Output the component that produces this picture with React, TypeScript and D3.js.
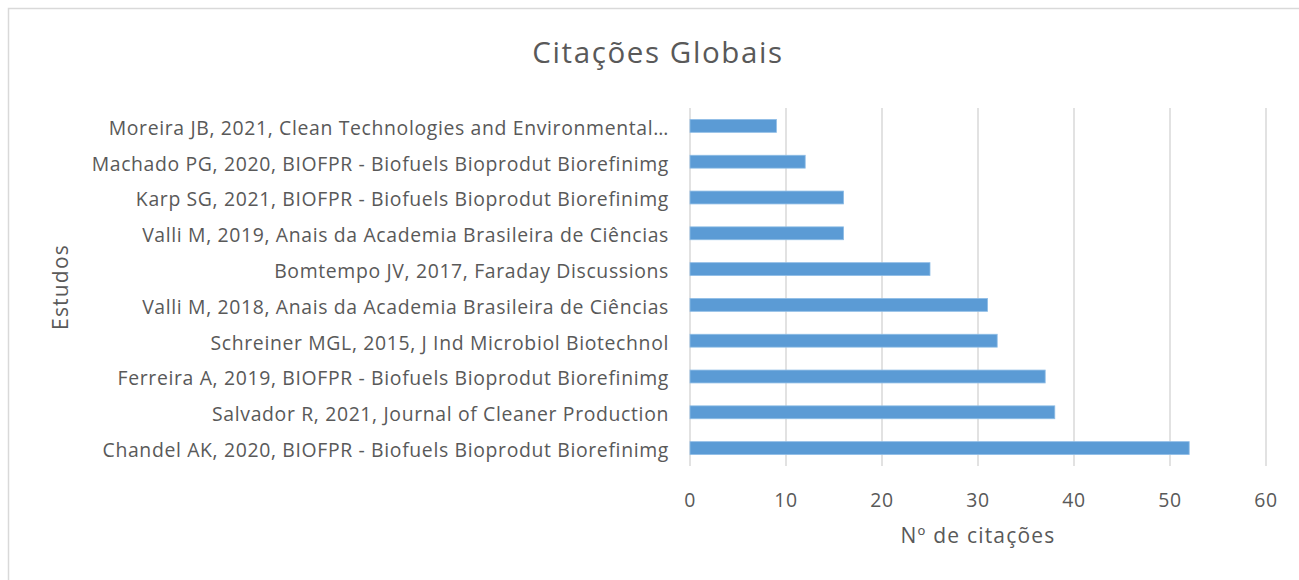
import React from "react";
import * as d3 from "d3";

const categories = [
  "Moreira JB, 2021, Clean Technologies and Environmental…",
  "Machado PG, 2020, BIOFPR - Biofuels Bioprodut Biorefinimg",
  "Karp SG, 2021, BIOFPR - Biofuels Bioprodut Biorefinimg",
  "Valli M, 2019, Anais da Academia Brasileira de Ciências",
  "Bomtempo JV, 2017, Faraday Discussions",
  "Valli M, 2018, Anais da Academia Brasileira de Ciências",
  "Schreiner MGL, 2015, J Ind Microbiol Biotechnol",
  "Ferreira A, 2019, BIOFPR - Biofuels Bioprodut Biorefinimg",
  "Salvador R, 2021, Journal of Cleaner Production",
  "Chandel AK, 2020, BIOFPR - Biofuels Bioprodut Biorefinimg",
];
const citations = [9, 12, 16, 16, 25, 31, 32, 37, 38, 52];
const xTicks = [0, 10, 20, 30, 40, 50, 60];

const W = 1299;
const H = 580;
const FONT = "'Open Sans', sans-serif";
const TEXT = "#595959";

export default function App() {
  const margin = { top: 108, right: 33, bottom: 114, left: 690 };

  const x = d3
    .scaleLinear()
    .domain([0, 60])
    .range([margin.left, W - margin.right]);

  const y = d3
    .scaleBand<string>()
    .domain(categories)
    .range([margin.top, H - margin.bottom])
    .paddingInner(0.64)
    .paddingOuter(0.32);

  const plotBottom = H - margin.bottom;

  return (
    <svg
      width={W}
      height={H}
      style={{ position: "absolute", left: 0, top: 0, display: "block", background: "#fff" }}
      fontFamily={FONT}
    >
      {/* moldura */}
      <rect x={8.5} y={8.5} width={W + 10} height={H + 10} fill="none" stroke="#d9d9d9" strokeWidth={1.5} />

      <text x={658} y={63} textAnchor="middle" fontSize={29.5} letterSpacing={1.6} fill={TEXT}>
        Citações Globais
      </text>

      {/* gridlines */}
      {xTicks.map((t) => (
        <line
          key={t}
          x1={x(t)}
          x2={x(t)}
          y1={margin.top}
          y2={plotBottom}
          stroke="#d9d9d9"
          strokeWidth={1.5}
        />
      ))}

      {/* barras */}
      {categories.map((c, i) => (
        <rect
          key={c}
          x={x(0)}
          y={y(c)}
          width={x(citations[i]) - x(0)}
          height={y.bandwidth()}
          fill="#5b9bd5"
          stroke="#8fbde6"
          strokeWidth={0.8}
        />
      ))}

      {/* rótulos das categorias */}
      {categories.map((c) => (
        <text
          key={c}
          x={x(0) - 21}
          y={(y(c) ?? 0) + y.bandwidth() / 2}
          dy="0.46em"
          textAnchor="end"
          fontSize={19.4}
          letterSpacing={0.65}
          fill={TEXT}
        >
          {c}
        </text>
      ))}

      {/* ticks do eixo x */}
      {xTicks.map((t) => (
        <text key={t} x={x(t)} y={507} textAnchor="middle" fontSize={19.4} letterSpacing={0.65} fill={TEXT}>
          {t}
        </text>
      ))}

      <text x={978} y={543} textAnchor="middle" fontSize={21} letterSpacing={1.2} fill={TEXT}>
        Nº de citações
      </text>

      <text
        transform={`translate(68,287) rotate(-90)`}
        textAnchor="middle"
        fontSize={21}
        letterSpacing={1.2}
        fill={TEXT}
      >
        Estudos
      </text>
    </svg>
  );
}
